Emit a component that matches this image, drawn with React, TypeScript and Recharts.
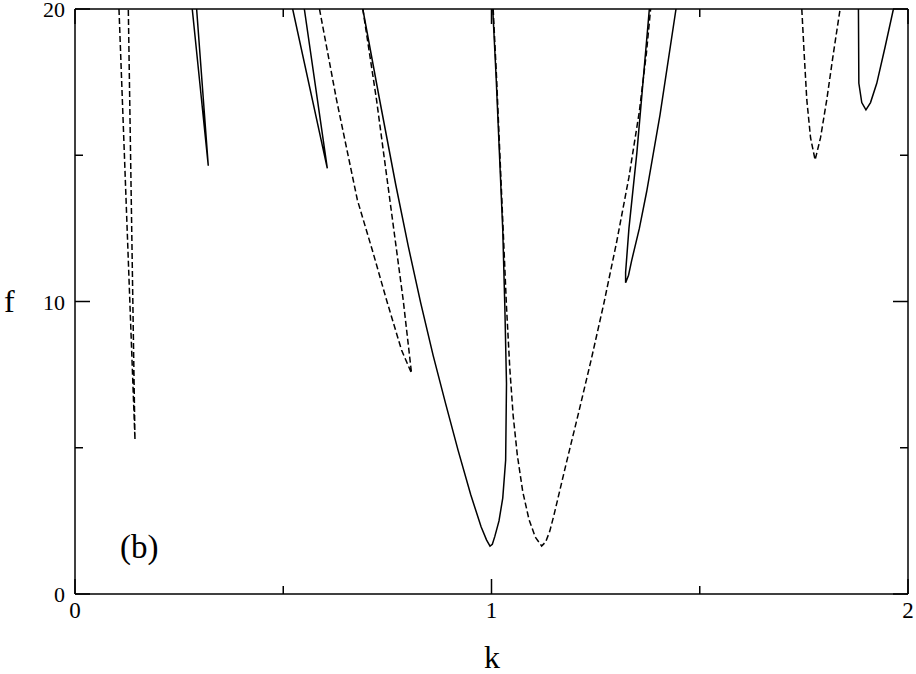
import { LineChart, Line, XAxis, YAxis } from "recharts";

// tick values
const kTicks = [0, 0.5, 1, 1.5, 2];
const fTicks = [0, 5, 10, 15, 20];

// branches, as [k, f]
const dashedNarrow = [[0.1056, 20], [0.144, 5.27], [0.128, 20]];
const solidNarrow1 = [[0.2815, 20], [0.32, 14.64], [0.292, 20]];
const solidNarrow2 = [[0.5226, 20], [0.6058, 14.55], [0.5506, 20]];
const dashedMid = [
  [0.587, 20], [0.628, 16.89], [0.678, 13.47], [0.715, 11.7], [0.748, 10.05], [0.784, 8.34],
  [0.808, 7.55], [0.788, 10.05], [0.756, 13.47], [0.724, 16.89], [0.691, 20],
];
const solidValley = [
  [0.691, 20], [0.73, 17.0], [0.77, 14.0], [0.8, 11.9], [0.83, 9.95], [0.86, 8.15],
  [0.89, 6.5], [0.92, 4.9], [0.95, 3.4], [0.975, 2.3], [0.988, 1.85], [0.9964, 1.64],
  [1.002, 1.7], [1.008, 1.97], [1.018, 2.5], [1.027, 3.28], [1.034, 4.58], [1.036, 7.2],
  [1.032, 9.83], [1.027, 12.45], [1.019, 15.07], [1.011, 17.7], [1.003, 20],
];
const dashedValley = [
  [1.004, 20], [1.012, 17.7], [1.02, 15.07], [1.028, 12.45], [1.036, 9.83], [1.044, 7.7],
  [1.052, 6.1], [1.062, 4.75], [1.075, 3.5], [1.09, 2.55], [1.105, 1.95], [1.1204, 1.64],
  [1.13, 1.78], [1.14, 2.15], [1.15, 2.7], [1.165, 3.6], [1.18, 4.5], [1.21, 6.25],
  [1.24, 8.05], [1.27, 9.95], [1.3, 12.0], [1.33, 14.25], [1.355, 16.5], [1.372, 18.5],
  [1.382, 20],
];
const solidLoop = [
  [1.379, 20], [1.349, 15.08], [1.33, 12.5], [1.322, 11.0], [1.322, 10.64], [1.329, 10.9],
  [1.3365, 11.4], [1.355, 12.5], [1.3726, 13.76], [1.4046, 16.38], [1.443, 20],
];
const dashedRight = [
  [1.745, 20], [1.751, 18.4], [1.757, 16.9], [1.766, 15.6], [1.777, 14.84], [1.79, 15.6],
  [1.805, 16.9], [1.82, 18.4], [1.837, 20],
];
const solidRight = [
  [1.881, 20], [1.882, 17.46], [1.889, 16.8], [1.899, 16.55], [1.91, 16.8], [1.925, 17.46],
  [1.945, 18.7], [1.965, 20],
];

const curves = [
  { id: "d1", pts: dashedNarrow, dashed: true },
  { id: "s1", pts: solidNarrow1, dashed: false },
  { id: "s2", pts: solidNarrow2, dashed: false },
  { id: "d2", pts: dashedMid, dashed: true },
  { id: "s3", pts: solidValley, dashed: false },
  { id: "d3", pts: dashedValley, dashed: true },
  { id: "s4", pts: solidLoop, dashed: false },
  { id: "d4", pts: dashedRight, dashed: true },
  { id: "s5", pts: solidRight, dashed: false },
];

const serif = "'Liberation Serif', 'Times New Roman', serif";

const BottomTick = (props: any) => {
  const { x, y, payload } = props;
  const major = payload.value % 1 === 0;
  return (
    <g>
      <line x1={x} x2={x} y1={y} y2={y - (major ? 15 : 8)} stroke="#000" strokeWidth={1.5} />
      {major && (
        <text x={x} y={y + 24} textAnchor="middle" fontSize={23} fontFamily={serif} fill="#000">
          {payload.value}
        </text>
      )}
    </g>
  );
};

const TopTick = (props: any) => {
  const { x, y, payload } = props;
  const major = payload.value % 1 === 0;
  return <line x1={x} x2={x} y1={y} y2={y + (major ? 15 : 8)} stroke="#000" strokeWidth={1.5} />;
};

const LeftTick = (props: any) => {
  const { x, y, payload } = props;
  const major = payload.value % 10 === 0;
  return (
    <g>
      <line x1={x} x2={x + (major ? 15 : 8)} y1={y} y2={y} stroke="#000" strokeWidth={1.5} />
      <text x={x - 10} y={y + 8} textAnchor="end" fontSize={22} fontFamily={serif} fill="#000">
        {major ? payload.value : ""}
      </text>
    </g>
  );
};

const RightTick = (props: any) => {
  const { x, y, payload } = props;
  const major = payload.value % 10 === 0;
  return <line x1={x} x2={x - (major ? 15 : 8)} y1={y} y2={y} stroke="#000" strokeWidth={1.5} />;
};

export default function App() {
  return (
    <div style={{ position: "absolute", left: 0, top: 0, background: "#fff" }}>
      <LineChart width={916} height={674} margin={{ top: 8, right: 7, bottom: 79, left: 74 }}>
        <XAxis
          xAxisId="b"
          dataKey="k"
          type="number"
          domain={[0, 2]}
          ticks={kTicks}
          interval={0}
          height={1}
          tickSize={0}
          tickMargin={0}
          tick={<BottomTick />}
          tickLine={false}
          axisLine={{ stroke: "#000", strokeWidth: 1.5 }}
          allowDataOverflow
        />
        <XAxis
          xAxisId="t"
          orientation="top"
          dataKey="k"
          type="number"
          domain={[0, 2]}
          ticks={kTicks}
          interval={0}
          height={1}
          tickSize={0}
          tickMargin={0}
          tick={<TopTick />}
          tickLine={false}
          axisLine={{ stroke: "#000", strokeWidth: 1.5 }}
          allowDataOverflow
        />
        <YAxis
          yAxisId="l"
          type="number"
          domain={[0, 20]}
          ticks={fTicks}
          interval={0}
          width={1}
          tickSize={0}
          tickMargin={0}
          tick={<LeftTick />}
          tickLine={false}
          axisLine={{ stroke: "#000", strokeWidth: 1.5 }}
          allowDataOverflow
        />
        <YAxis
          yAxisId="r"
          orientation="right"
          type="number"
          domain={[0, 20]}
          ticks={fTicks}
          interval={0}
          width={1}
          tickSize={0}
          tickMargin={0}
          tick={<RightTick />}
          tickLine={false}
          axisLine={{ stroke: "#000", strokeWidth: 1.5 }}
          allowDataOverflow
        />
        {curves.map((c) => (
          <Line
            key={c.id}
            xAxisId="b"
            yAxisId="l"
            data={c.pts.map(([k, f]) => ({ k, f }))}
            dataKey="f"
            type="linear"
            stroke="#000"
            strokeWidth={1.5}
            strokeDasharray={c.dashed ? "6 3" : undefined}
            dot={false}
            activeDot={false}
            isAnimationActive={false}
          />
        ))}
        <text x={4} y={312} fontSize={32} fontFamily={serif} fill="#000">f</text>
        <text x={492} y={668} textAnchor="middle" fontSize={32} fontFamily={serif} fill="#000">k</text>
        <text x={120} y={558} fontSize={33} fontFamily={serif} fill="#000">(b)</text>
      </LineChart>
    </div>
  );
}
